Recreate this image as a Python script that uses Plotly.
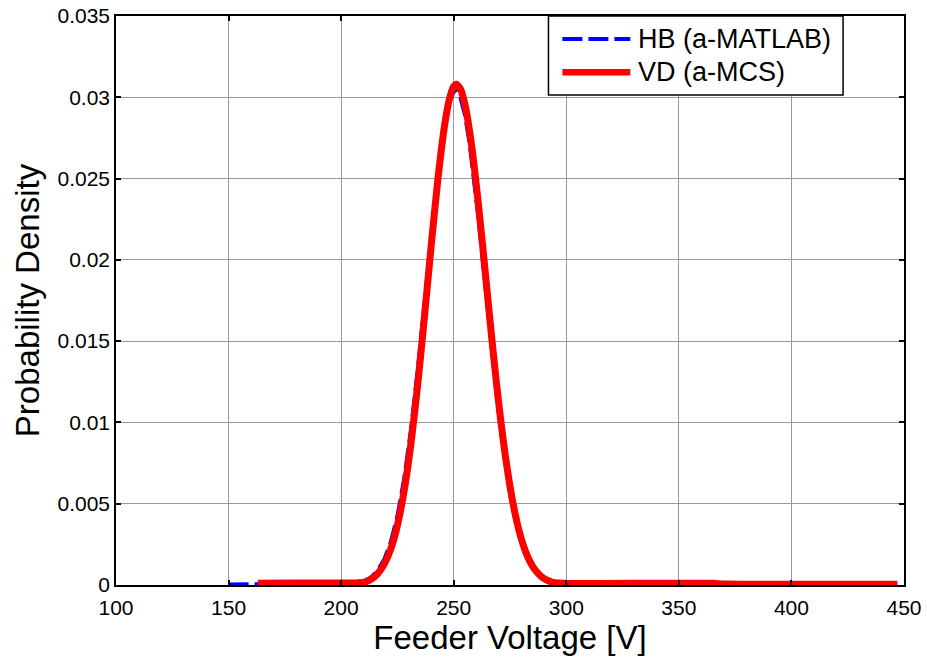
import plotly.graph_objects as go

# ---- data ----
hb_x = [150, 158, 165, 180, 200, 210, 213, 216, 219, 222, 225, 228, 231, 234, 237, 240, 243, 246, 248, 250, 251,
        253, 255, 257, 259, 261, 263, 265, 267, 269, 271, 273, 275, 277, 279, 281, 283, 285, 287, 289, 291, 294,
        297, 300, 340, 370, 400, 447]
hb_y = [0.00003, 0.00004, 0.00008, 0.0001, 0.0001, 0.00022, 0.00044, 0.00085, 0.00153, 0.00261, 0.00424, 0.00653,
        0.00953, 0.01319, 0.0173, 0.02153, 0.0254, 0.0284, 0.0297, 0.03034, 0.0304,
        0.02998, 0.02891, 0.02723, 0.02506, 0.02255, 0.01983, 0.01704, 0.01432, 0.01175, 0.00942, 0.00739, 0.00566,
        0.00424, 0.0031, 0.00222, 0.00155, 0.00106, 0.00071, 0.00046, 0.00029, 0.00014,
        0.0001, 0.0001, 0.0001, 0.00008, 0.00006, 0.00005]

vd_x = [163, 180, 200, 207, 210, 213, 216, 219, 222, 225, 228, 231, 234, 237, 240, 243, 246, 248, 250, 251.2,
        253, 255, 257, 259, 261, 263, 265, 267, 269, 271, 273, 275, 277, 279, 281, 283, 285, 287, 289, 291, 294,
        297, 300, 330, 365, 370, 400, 447]
vd_y = [0.0001, 0.00012, 0.00012, 0.00013, 0.00016, 0.00033, 0.00066, 0.00124, 0.00219, 0.00367, 0.00581, 0.00869,
        0.01231, 0.01649, 0.02088, 0.0250, 0.02832, 0.02984, 0.03066, 0.0308,
        0.03051, 0.02955, 0.02797, 0.02587, 0.02338, 0.02066, 0.01783, 0.01505, 0.01241, 0.0100, 0.00787, 0.00606,
        0.00456, 0.00335, 0.00241, 0.00169, 0.00116, 0.00078, 0.00051, 0.00033, 0.00016,
        0.00012, 0.0001, 0.0001, 0.0001, 0.00006, 0.00005, 0.00005]

x_ticks = [100, 150, 200, 250, 300, 350, 400, 450]
y_ticks = [0, 0.005, 0.01, 0.015, 0.02, 0.025, 0.03, 0.035]
y_tick_text = ["0", "0.005", "0.01", "0.015", "0.02", "0.025", "0.03", "0.035"]
series_names = ["HB (a-MATLAB)", "VD (a-MCS)"]
series_colors = ["#0000ff", "#ff0000"]

FONT = "Liberation Sans, Arial, sans-serif"
DASH = "20px,6px"

fig = go.Figure()
fig.add_trace(go.Scatter(x=hb_x, y=hb_y, mode="lines", name=series_names[0],
                         line=dict(color=series_colors[0], width=4, dash=DASH), showlegend=False))
fig.add_trace(go.Scatter(x=vd_x, y=vd_y, mode="lines", name=series_names[1],
                         line=dict(color=series_colors[1], width=7, shape="spline", smoothing=0.6),
                         showlegend=False))

axis_common = dict(
    showline=True, linecolor="black", linewidth=1.5, mirror="ticks",
    ticks="inside", ticklen=5, tickcolor="black", tickwidth=1.5,
    showgrid=True, gridcolor="#9a9a9a", gridwidth=1, zeroline=False,
    tickfont=dict(family=FONT, size=21, color="black"),
    automargin=False,
)

fig.update_layout(
    width=927, height=661,
    margin=dict(l=116, r=23, t=16, b=76),
    paper_bgcolor="white", plot_bgcolor="white",
    font=dict(family=FONT, color="black"),
    xaxis=dict(range=[100, 450], tickvals=x_ticks, ticktext=[str(v) for v in x_ticks],
               ticklabelstandoff=3,
               title=dict(text="Feeder Voltage [V]", font=dict(family=FONT, size=33), standoff=4),
               **axis_common),
    yaxis=dict(range=[0, 0.035], tickvals=y_ticks, ticktext=y_tick_text,
               title=dict(text="Probability Density", font=dict(family=FONT, size=33), standoff=8),
               **axis_common),
)

# legend box (MATLAB style) drawn in paper coordinates
lx0, lx1, ly0, ly1 = 0.5488, 0.9227, 0.861, 1.0
fig.add_shape(type="rect", xref="paper", yref="paper", x0=lx0, x1=lx1, y0=ly0, y1=ly1,
              line=dict(color="black", width=1.5), fillcolor="white", layer="above")
rows_y = [0.9596, 0.901]
fig.add_shape(type="line", xref="paper", yref="paper", x0=0.5665, x1=0.6527, y0=rows_y[0], y1=rows_y[0],
              line=dict(color=series_colors[0], width=4, dash=DASH), layer="above")
fig.add_shape(type="line", xref="paper", yref="paper", x0=0.5665, x1=0.6527, y0=rows_y[1], y1=rows_y[1],
              line=dict(color=series_colors[1], width=6.5), layer="above")
for name, yy in zip(series_names, rows_y):
    fig.add_annotation(xref="paper", yref="paper", x=0.6605, y=yy, text=name, showarrow=False,
                       xanchor="left", yanchor="middle", font=dict(family=FONT, size=27, color="black"))

fig.write_html("out.html")
